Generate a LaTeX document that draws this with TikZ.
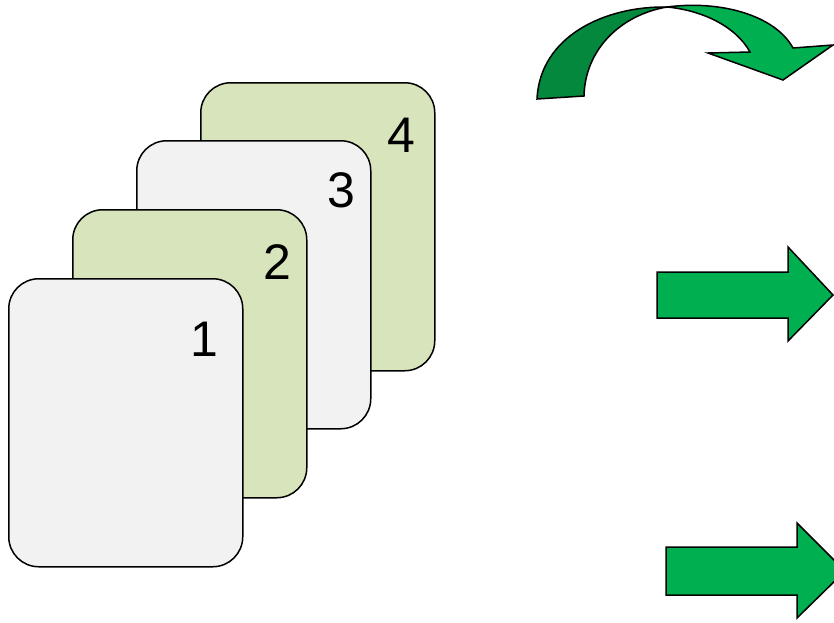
\documentclass[tikz,border=0pt]{standalone}
\usepackage{fontspec}
\setmainfont{Liberation Sans}
\definecolor{cardgray}{HTML}{F2F2F2}
\definecolor{cardgreen}{HTML}{D8E4BC}
\definecolor{arrowgreen}{HTML}{00B050}
\definecolor{darkgreen}{HTML}{03883E}
\tikzset{
  card/.style={draw=black, line width=1.5pt, rounded corners=30pt, minimum width=234pt, minimum height=288pt, anchor=north west, inner sep=0pt},
  graycard/.style={card, fill=cardgray},
  greencard/.style={card, fill=cardgreen},
  num/.style={font=\fontsize{50}{50}\selectfont, inner sep=0pt, anchor=center},
  greenarrow/.style={draw=black, line width=1.5pt, fill=arrowgreen, line join=miter},
}
\begin{document}
\begin{tikzpicture}[x=1pt, y=-1pt]
\useasboundingbox (0,0) rectangle (834,622);
\clip (0,0) rectangle (834,622);
\fill[white] (0,0) rectangle (834,622);
% cards, back to front
\node[greencard] (c4) at (200,82) {};
\node[graycard] (c3) at (136,140) {};
\node[greencard] (c2) at (72,209) {};
\node[graycard] (c1) at (8,278) {};
\node[num] (n4) at (401,135) {4};
\node[num] (n3) at (341,190) {3};
\node[num] (n2) at (277,262) {2};
\node[num] (n1) at (204,339) {1};
% curved arrow
\draw[greenarrow, fill=darkgreen] (537,99) .. controls (540,36) and (605,6) .. (667,7)
  .. controls (620,15) and (585,50) .. (584,96) -- cycle;
\draw[greenarrow] (667,7) .. controls (720,0) and (775,15) .. (793,48) -- (833,45) -- (783,80) -- (708,53) -- (750,52)
  .. controls (735,25) and (700,10) .. (667,7) -- cycle;
% straight arrows
\draw[greenarrow] (657,272) -- (788,272) -- (788,247) -- (833,295) -- (788,341) -- (788,318) -- (657,318) -- cycle;
\draw[greenarrow] (666,547) -- (797,547) -- (797,523) -- (845,571) -- (797,618) -- (797,595) -- (666,595) -- cycle;
\end{tikzpicture}
\end{document}
